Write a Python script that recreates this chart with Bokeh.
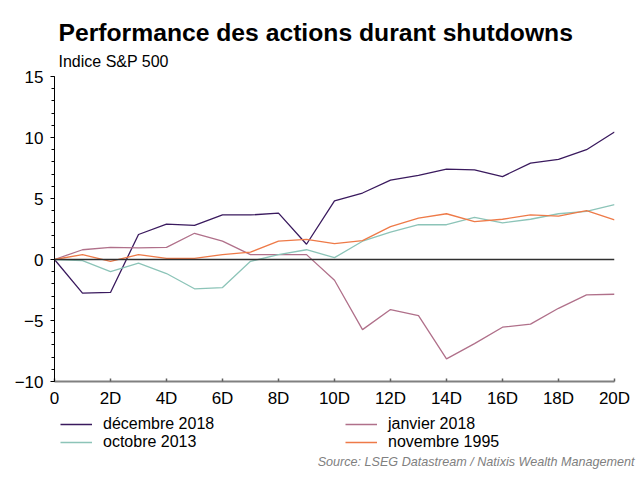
from bokeh.plotting import figure
from bokeh.models import (FixedTicker, Span, Legend, LegendItem, Range1d, Title)
from bokeh.layouts import column
from bokeh.embed import file_html
from bokeh.resources import INLINE

days = list(range(21))
dec_2018 = [0, -2.75, -2.7, 2.05, 2.9, 2.8, 3.65, 3.65, 3.8, 1.25, 4.8, 5.45, 6.5, 6.9, 7.4, 7.35, 6.8, 7.9, 8.2, 9.0, 10.45]
jan_2018 = [0, 0.8, 1.0, 0.95, 1.0, 2.15, 1.5, 0.4, 0.4, 0.4, -1.7, -5.75, -4.1, -4.6, -8.15, -6.9, -5.55, -5.3, -4.0, -2.9, -2.85]
oct_2013 = [0, -0.1, -1.0, -0.3, -1.15, -2.4, -2.3, -0.15, 0.4, 0.8, 0.15, 1.5, 2.25, 2.85, 2.85, 3.45, 3.0, 3.3, 3.75, 3.95, 4.5]
nov_1995 = [0, 0.4, -0.15, 0.4, 0.1, 0.1, 0.4, 0.6, 1.5, 1.65, 1.3, 1.55, 2.7, 3.4, 3.75, 3.1, 3.3, 3.65, 3.55, 4.0, 3.25]

series_names = ["décembre 2018", "janvier 2018", "octobre 2013", "novembre 1995"]
series_values = [dec_2018, jan_2018, oct_2013, nov_1995]
series_colors = ["#3a1a5e", "#b0708a", "#8cc4b8", "#ee7a48"]

x_ticks = [0, 2, 4, 6, 8, 10, 12, 14, 16, 18, 20]
x_labels = ["0", "2D", "4D", "6D", "8D", "10D", "12D", "14D", "16D", "18D", "20D"]
y_ticks = [-10, -5, 0, 5, 10, 15]

title_text = "Performance des actions durant shutdowns"
subtitle_text = "Indice S&P 500"
source_text = "Source: LSEG Datastream / Natixis Wealth Management"

FONT = "Liberation Sans"
W = 639
H1 = 410
H2 = 83

p = figure(width=W, height=H1, output_backend="svg", toolbar_location=None, title=None,
           x_range=Range1d(0, 20), y_range=Range1d(-10, 15),
           min_border_left=54, min_border_right=25, min_border_top=76, min_border_bottom=28)
p.outline_line_color = None
p.grid.visible = False
p.background_fill_color = "white"
p.border_fill_color = "white"

# axes
xa = p.xaxis[0]
xa.ticker = FixedTicker(ticks=x_ticks, minor_ticks=[])
xa.major_label_overrides = {t: l for t, l in zip(x_ticks, x_labels)}
xa.axis_line_color = "#808080"
xa.axis_line_width = 2
xa.major_tick_in = 3
xa.major_tick_out = 0
xa.major_tick_line_color = "#606060"
xa.major_tick_line_width = 1.5
xa.minor_tick_line_color = None
xa.major_label_text_font = FONT
xa.major_label_text_font_size = "17px"
xa.major_label_text_color = "black"
xa.major_label_standoff = 7

ya = p.yaxis[0]
ya.ticker = FixedTicker(ticks=y_ticks, minor_ticks=list(range(-10, 16)))
ya.axis_line_color = "black"
ya.axis_line_width = 1
ya.major_tick_in = 0
ya.major_tick_out = 4
ya.minor_tick_in = 0
ya.minor_tick_out = 3
ya.major_tick_line_color = "black"
ya.minor_tick_line_color = "black"
ya.major_label_text_font = FONT
ya.major_label_text_font_size = "17px"
ya.major_label_text_color = "black"
ya.major_label_standoff = 7

p.add_layout(Span(location=0, dimension="width", line_color="#303030", line_width=1.5))

for name, vals, col in zip(series_names, series_values, series_colors):
    p.line(days, vals, line_color=col, line_width=1.3)

p.add_layout(Title(text=subtitle_text, align="left", offset=4, standoff=13,
                   text_font=FONT, text_font_size="16px", text_font_style="normal",
                   text_color="black"), "above")
p.add_layout(Title(text=title_text, align="left", offset=4, standoff=-3,
                   text_font=FONT, text_font_size="24.7px", text_font_style="bold",
                   text_color="black"), "above")

# bottom strip: legend + source
p2 = figure(width=W, height=H2, output_backend="svg", toolbar_location=None, title=None,
            x_range=Range1d(0, 20), y_range=Range1d(-10, 15),
            x_axis_location=None, y_axis_location=None,
            min_border_left=54, min_border_right=25, min_border_top=0, min_border_bottom=42)
p2.outline_line_color = None
p2.grid.visible = False
p2.background_fill_color = "white"
p2.border_fill_color = "white"

items = []
for name, vals, col in zip(series_names, series_values, series_colors):
    rr = p2.line(days, vals, line_color=col, line_width=1.3, visible=False)
    items.append(LegendItem(label=name, renderers=[rr]))

legend = Legend(items=items, orientation="horizontal", ncols=2, location=(6, 0),
                click_policy="none", inactive_fill_alpha=0,
                label_text_font=FONT, label_text_font_size="16px", label_text_color="black",
                glyph_width=32, glyph_height=18, label_height=18, label_standoff=11,
                label_width=242, spacing=0, padding=0, margin=0,
                border_line_color=None, background_fill_alpha=0)
p2.add_layout(legend, "center")

p2.add_layout(Title(text=source_text, align="right", offset=-20, standoff=3,
                    text_font=FONT, text_font_size="12.6px", text_font_style="italic",
                    text_color="#808080"), "below")

layout = column(p, p2, spacing=0)
open("out.html", "w").write(file_html(layout, INLINE))
